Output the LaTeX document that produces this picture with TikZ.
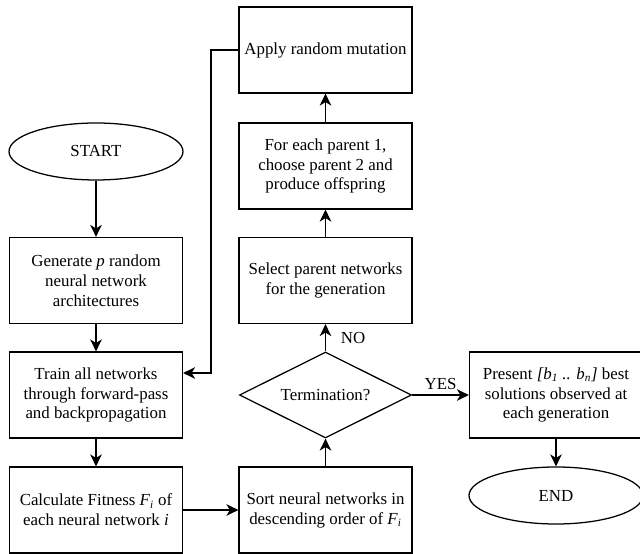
\documentclass[tikz,border=0pt]{standalone}
\usepackage{fontspec}
\setmainfont{Liberation Serif}
\usepackage{tikz}
\usetikzlibrary{arrows.meta,shapes.geometric,calc,positioning}

\begin{document}
\begin{tikzpicture}[
        font=\fontsize{12}{14.2}\selectfont,
        box/.style={draw, line width=0.9pt, minimum width=4.325cm, minimum height=2.15cm, align=center, inner sep=2pt},
        terminal/.style={draw, ellipse, line width=0.9pt, minimum width=4.35cm, minimum height=1.425cm, inner sep=0pt},
        decision/.style={draw, diamond, line width=0.9pt, shape aspect=2, minimum width=4.3cm, minimum height=2.15cm, inner sep=0pt},
        arr/.style={line width=0.9pt, -{Stealth[length=3mm,width=2.9mm,inset=0.9mm]}}
    ]
            % Canvas
            \useasboundingbox (0,0) rectangle (16,13.825);
            % Parameters
            \def\colL{2.4}
            \def\colM{8.1375}
            \def\colR{13.9}
            % Left column
            \node[terminal] (start) at (\colL,10.0375) {START};
            \node[box] (generate) at (\colL,6.8125) {Generate \textit{p} random\\neural network\\architectures};
            \node[box] (train) at (\colL,3.95) {Train all networks\\through forward-pass\\and backpropagation};
            \node[box] (fitness) at (\colL,1.075) {Calculate Fitness \textit{F}\textsubscript{\textit{i}} of\\each neural network \textit{i}};
            % Middle column
            \node[box] (sort) at (\colM,1.075) {Sort neural networks in\\descending order of \textit{F}\textsubscript{\textit{i}}};
            \node[decision] (term) at (\colM,3.95) {Termination?};
            \node[box] (select) at (\colM,6.8125) {Select parent networks\\for the generation};
            \node[box] (crossover) at (\colM,9.675) {For each parent 1,\\choose parent 2 and\\produce offspring};
            \node[box] (mutate) at (\colM,12.575) {Apply random mutation};
            % Right column
            \node[box] (present) at (\colR,3.95) {Present \textit{[b\textsubscript{1} .. b\textsubscript{n}]} best\\solutions observed at\\each generation};
            \node[terminal] (stop) at (\colR,1.4375) {END};
            % Loop back
            \coordinate (loop) at (5.275,0);
            \coordinate (trainin) at ($(train.east)+(0,0.55)$);
            % Arrows
            \draw[arr] (start) -- (generate);
            \draw[arr] (generate) -- (train);
            \draw[arr] (train) -- (fitness);
            \draw[arr] (fitness) -- (sort);
            \draw[arr] (sort) -- (term);
            \draw[arr] (term) -- node[right=0.25cm] {NO} (select);
            \draw[arr] (select) -- (crossover);
            \draw[arr] (crossover) -- (mutate);
            \draw[arr] (mutate.west) -| (loop |- trainin) -- (trainin);
            \draw[arr] (term) -- node[above] {YES} (present);
            \draw[arr] (present) -- (stop);
        \end{tikzpicture}
\end{document}
